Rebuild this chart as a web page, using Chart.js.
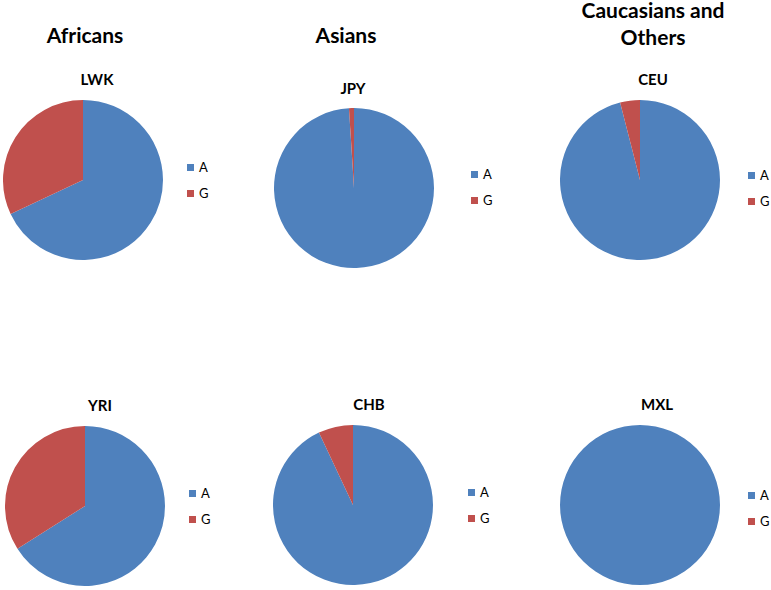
<!DOCTYPE html>
<html>
<head>
<meta charset="utf-8">
<script src="https://cdn.jsdelivr.net/npm/chart.js@4"></script>
<style>
  body { margin: 0; background: #fff; width: 771px; height: 590px; position: relative; overflow: hidden; font-family: Lato, "Open Sans", sans-serif; color: #000; }
  .group { position: absolute; font-weight: bold; font-size: 21px; line-height: 27px; text-align: center; transform: translateX(-50%); }
  .pop { position: absolute; font-weight: bold; font-size: 15px; line-height: 18px; text-align: center; transform: translateX(-50%); white-space: nowrap; }
  .pie { position: absolute; width: 160px; height: 160px; }
  .legend { position: absolute; font-size: 13px; }
  .legend div { position: absolute; white-space: nowrap; line-height: 14px; }
  .legend span { display: inline-block; width: 7px; height: 7px; margin-right: 5px; vertical-align: 1px; }
</style>
</head>
<body>
<script>
// datos
const groups = ['Africans', 'Asians', 'Caucasians and Others'];
const populations = ['LWK', 'JPY', 'CEU', 'YRI', 'CHB', 'MXL'];
const alleles = ['A', 'G'];
const lwkValues = [68, 32];
const jpyValues = [99, 1];
const ceuValues = [96, 4];
const yriValues = [66, 34];
const chbValues = [93, 7];
const mxlValues = [100, 0];
const alleleColors = ['#4F81BD', '#C0504D'];

const popValues = [lwkValues, jpyValues, ceuValues, yriValues, chbValues, mxlValues];

// posiciones en la pagina
const groupLayout = [
  { x: 85, top: 21, width: 140 },
  { x: 346, top: 21, width: 140 },
  { x: 653, top: -4, width: 165 }
];
const panelLayout = [
  { cx: 83, cy: 180, tx: 97, ty: 70, lx: 187, ly: 167 },
  { cx: 353.5, cy: 187.5, tx: 353, ty: 79, lx: 471, ly: 174 },
  { cx: 639.5, cy: 180, tx: 653, ty: 70, lx: 748, ly: 174.5 },
  { cx: 85, cy: 506, tx: 100, ty: 396, lx: 189, ly: 493 },
  { cx: 353, cy: 504.5, tx: 369, ty: 395, lx: 468, ly: 492 },
  { cx: 639.5, cy: 505, tx: 657, ty: 395, lx: 748, ly: 494.5 }
];

groups.forEach((g, i) => {
  const d = document.createElement('div');
  d.className = 'group';
  d.textContent = g;
  d.style.left = groupLayout[i].x + 'px';
  d.style.top = groupLayout[i].top + 'px';
  d.style.width = groupLayout[i].width + 'px';
  document.body.appendChild(d);
});

populations.forEach((pop, i) => {
  const p = panelLayout[i];

  const title = document.createElement('div');
  title.className = 'pop';
  title.textContent = pop;
  title.style.left = p.tx + 'px';
  title.style.top = p.ty + 'px';
  document.body.appendChild(title);

  const box = document.createElement('div');
  box.className = 'pie';
  box.style.left = (p.cx - 80) + 'px';
  box.style.top = (p.cy - 80) + 'px';
  const canvas = document.createElement('canvas');
  box.appendChild(canvas);
  document.body.appendChild(box);

  new Chart(canvas.getContext('2d'), {
    type: 'pie',
    data: {
      labels: alleles,
      datasets: [{
        data: popValues[i],
        backgroundColor: alleleColors,
        borderWidth: 0
      }]
    },
    options: {
      responsive: true,
      maintainAspectRatio: false,
      animation: false,
      layout: { padding: 0 },
      plugins: {
        legend: { display: false },
        tooltip: { enabled: false }
      }
    }
  });

  // leyenda a la derecha de cada pastel
  const legend = document.createElement('div');
  legend.className = 'legend';
  legend.style.left = p.lx + 'px';
  legend.style.top = p.ly + 'px';
  alleles.forEach((a, j) => {
    const item = document.createElement('div');
    item.style.left = '0px';
    item.style.top = (j * 26 - 7) + 'px';
    item.innerHTML = '<span style="background:' + alleleColors[j] + '"></span>' + a;
    legend.appendChild(item);
  });
  document.body.appendChild(legend);
});
</script>
</body>
</html>
